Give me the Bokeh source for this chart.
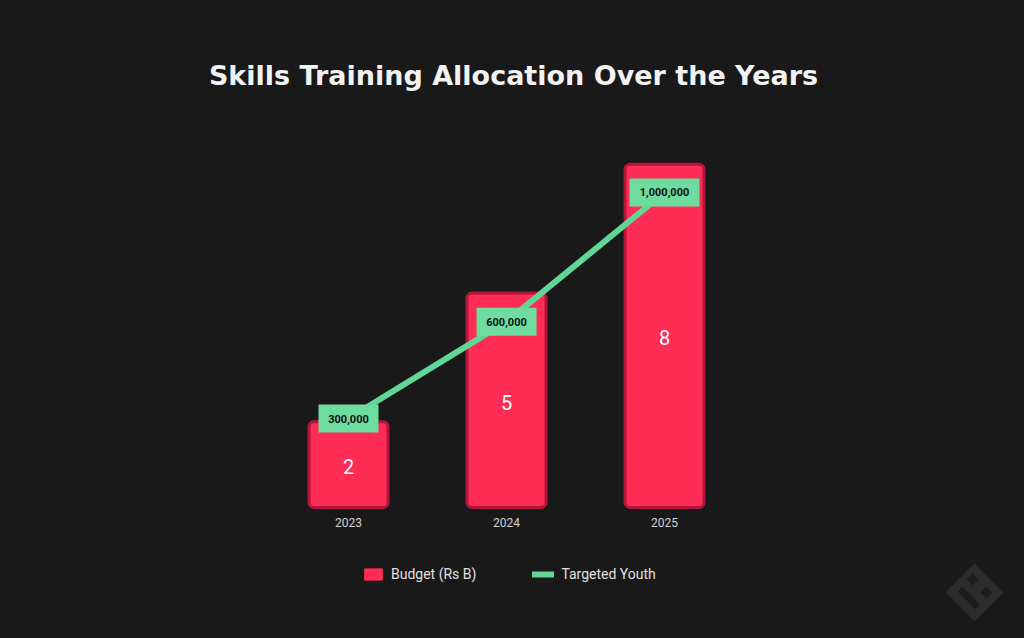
from bokeh.plotting import figure
from bokeh.models import ColumnDataSource, Range1d, Label, Legend, LegendItem, PolyAnnotation
from bokeh.core.properties import value
from bokeh.embed import file_html
from bokeh.resources import INLINE

years = ["2023", "2024", "2025"]
budget = [2, 5, 8]
youth = [300000, 600000, 1000000]
youth_labels = ["300,000", "600,000", "1,000,000"]
budget_labels = ["2", "5", "8"]

BG = "#191919"
RED = "#ff2d55"
GREEN = "#62d696"
GREEN_BOX = "#6ddc9e"

W, H = 1008, 622
xpos = list(range(len(years)))

src = ColumnDataSource(dict(x=xpos, year=years, budget=budget, youth=youth,
                            ylab=youth_labels, blab=budget_labels,
                            half=[b / 2 for b in budget],
                            zero=[0] * len(years),
                            boxw=[5 * len(s) + 25 for s in youth_labels]))

# frame spans whole canvas; ranges chosen so bars sit where the reference has them
px_x = 158.0
px_y = 42.9
px_y2 = 1 / 3097.0
p = figure(width=W, height=H,
           x_range=Range1d(1 - 506 / px_x, 1 + (W - 506) / px_x),
           y_range=Range1d(-(H - 507) / px_y, 507 / px_y),
           output_backend="svg", toolbar_location=None,
           background_fill_color=BG, border_fill_color=BG, outline_line_color=None,
           min_border=0, x_axis_type=None, y_axis_type=None)
p.extra_y_ranges = {"youth": Range1d(300000 - (H - 418) / px_y2, 300000 + 418 / px_y2)}
p.grid.visible = False

# logo (decoration, screen units)
def diamond(cx, cy, r):
    return [cx - r, cx, cx + r, cx], [H - cy, H - cy + r, H - cy, H - cy - r]

for cx, cy, r, col in [(974, 592, 29, "#2c2c2c"), (972, 579, 6, "#1d1d1d"), (986, 592, 6, "#1d1d1d")]:
    xs, ys = diamond(cx, cy, r)
    p.add_layout(PolyAnnotation(xs=xs, ys=ys, xs_units="screen", ys_units="screen",
                                fill_color=col, fill_alpha=1, line_color=None))
p.add_layout(PolyAnnotation(xs=[957, 962, 980, 975], ys=[H - 591, H - 586, H - 604, H - 609],
                            xs_units="screen", ys_units="screen",
                            fill_color="#1d1d1d", fill_alpha=1, line_color=None))

bars = p.vbar(x="x", top="budget", width=0.5, source=src, fill_color=RED,
              line_color="#b3153d", line_width=3, border_radius=5)

p.text(x="x", y="half", text="blab", source=src, text_color="white",
       text_font=value("Roboto"), text_font_size="20px", text_align="center",
       text_baseline="middle", y_offset=2)

# category labels
p.text(x="x", y="zero", text="year", source=src, text_color="#d2d2d2",
       text_font=value("Roboto"), text_font_size="12px", text_align="center",
       text_baseline="middle", y_offset=15)

line = p.line(x="x", y="youth", source=src, y_range_name="youth",
              line_color=GREEN, line_width=6)

p.rect(x="x", y="youth", width="boxw", height=28, width_units="screen", height_units="screen",
       source=src, y_range_name="youth", fill_color=GREEN_BOX, line_color=None)
p.text(x="x", y="youth", text="ylab", source=src, y_range_name="youth",
       text_align="center", text_baseline="middle", text_color="#111111",
       text_font=value("Roboto"), text_font_style="bold", text_font_size="11px")

title = Label(x=513, y=H - 75, x_units="screen", y_units="screen",
              text="Skills Training Allocation Over the Years",
              text_align="center", text_baseline="middle", text_color="#f2f2f2",
              text_font="DejaVu Sans", text_font_style="bold", text_font_size="27px")
p.add_layout(title)

# legend-only renderers (NaN data, nothing plotted)
nan = float("nan")
leg_src = ColumnDataSource(dict(x=[nan], top=[nan], y=[nan]))
leg_bar = p.vbar(x="x", top="top", width=0.5, source=leg_src, fill_color=RED,
                 line_color=RED, line_width=1, border_radius=3)
leg_line = p.line(x="x", y="y", source=leg_src, line_color=GREEN, line_width=6, line_cap="round")

legend = Legend(items=[LegendItem(label="Budget (Rs B)", renderers=[leg_bar]),
                       LegendItem(label="Targeted Youth", renderers=[leg_line])],
                orientation="horizontal", location=(362, H - 582),
                background_fill_alpha=0, border_line_color=None,
                label_text_color="#e0e0e0", label_text_font="Roboto", label_text_font_size="14px",
                glyph_width=22, glyph_height=14, spacing=56, padding=0, margin=0,
                label_standoff=7)
p.add_layout(legend, "center")

html = file_html(p, INLINE)
html = html.replace("<head>", "<head><style>html,body{background:%s;}</style>" % BG, 1)
open("out.html", "w").write(html)
